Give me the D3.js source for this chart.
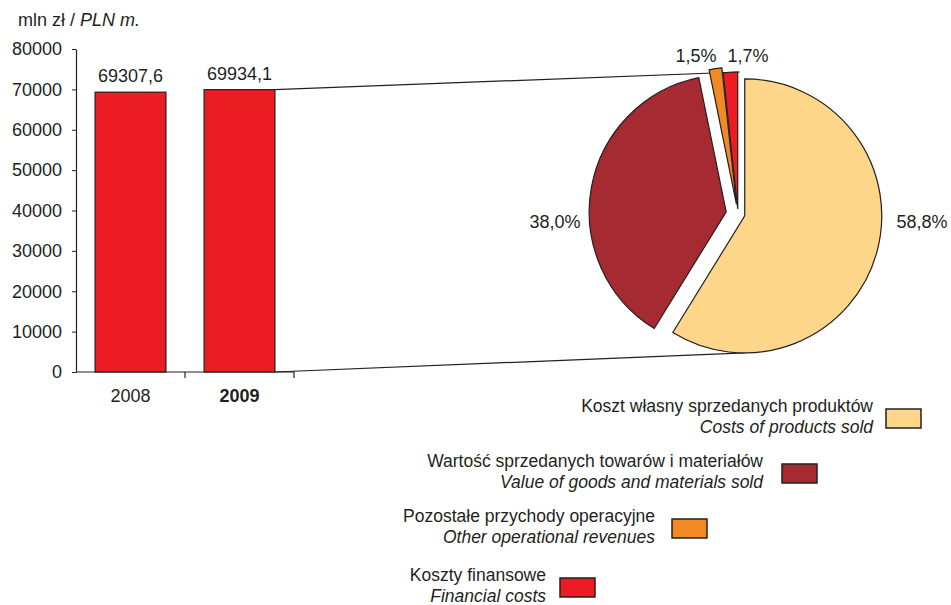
<!DOCTYPE html>
<html>
<head>
<meta charset="utf-8">
<script src="https://cdn.jsdelivr.net/npm/d3@7"></script>
<style>
  html, body { margin: 0; padding: 0; background: #fff; }
  svg text { font-family: "Liberation Sans", Arial, Helvetica, sans-serif; fill: #231f20; }
</style>
</head>
<body>
<svg id="chart" width="951" height="605"></svg>
<script>
// ---------- data ----------
const years = ["2008", "2009"];
const totals = [69307.6, 69934.1];
const totalLabels = ["69307,6", "69934,1"];
const yTicks = [0, 10000, 20000, 30000, 40000, 50000, 60000, 70000, 80000];
const shareValues = [58.8, 38.0, 1.5, 1.7];
const shareLabels = ["58,8%", "38,0%", "1,5%", "1,7%"];
const namesPL = ["Koszt własny sprzedanych produktów", "Wartość sprzedanych towarów i materiałów", "Pozostałe przychody operacyjne", "Koszty finansowe"];
const namesEN = ["Costs of products sold", "Value of goods and materials sold", "Other operational revenues", "Financial costs"];

// ---------- styles ----------
const barColor = "#ed1c24";
const sliceColors = ["#fdd68a", "#a52a31", "#f28a24", "#ed1c24"];
const explode = [7, 12, 10, 5];
const labelOffsets = [[184, 14], [-183, 14], [-42, -152], [10, -152]];

const svg = d3.select("#chart");

// ---------- bar chart ----------
const x = d3.scaleBand().domain(years).range([76, 294]).paddingInner(0.35).paddingOuter(0.175);
const y = d3.scaleLinear().domain([0, 80000]).range([372, 49]);

const yAxis = d3.axisLeft(y).tickValues(yTicks).tickSize(4).tickSizeOuter(0).tickPadding(10).tickFormat(d3.format("d"));
const gy = svg.append("g").attr("transform", "translate(76,0)").call(yAxis);
gy.select(".domain").attr("stroke", "#231f20").attr("stroke-width", 1.2);
gy.selectAll(".tick line").attr("stroke", "#231f20");
gy.selectAll(".tick text").style("font-size", "18px").attr("fill", "#231f20");

// baseline + category boundary ticks
svg.append("line").attr("x1", 76).attr("x2", 294).attr("y1", y(0)).attr("y2", y(0))
  .attr("stroke", "#231f20").attr("stroke-width", 1.2);
const bounds = years.map(d => x(d) + x.bandwidth() + x.step() * 0.175);
svg.selectAll(".xtick").data(bounds).join("line")
  .attr("x1", d => d).attr("x2", d => d).attr("y1", y(0)).attr("y2", y(0) + 6)
  .attr("stroke", "#231f20").attr("stroke-width", 1.2);

svg.selectAll(".xlabel").data(years).join("text")
  .attr("x", d => x(d) + x.bandwidth() / 2).attr("y", 402)
  .attr("text-anchor", "middle").style("font-size", "18px")
  .style("font-weight", (d, i) => i === years.length - 1 ? "bold" : "normal")
  .text(d => d);

svg.selectAll(".bar").data(totals).join("rect")
  .attr("x", (d, i) => x(years[i])).attr("width", x.bandwidth())
  .attr("y", d => y(d)).attr("height", d => y(0) - y(d))
  .attr("fill", barColor).attr("stroke", "#231f20").attr("stroke-width", 1.2);

svg.selectAll(".val").data(totals).join("text")
  .attr("x", (d, i) => x(years[i]) + x.bandwidth() / 2).attr("y", d => y(d) - 10)
  .attr("text-anchor", "middle").style("font-size", "18px")
  .text((d, i) => totalLabels[i]);

const title = svg.append("text").attr("x", 18).attr("y", 26).style("font-size", "18px");
title.append("tspan").text("mln zł / ");
title.append("tspan").style("font-style", "italic").text("PLN m.");

// ---------- pie ----------
const cx = 738, cy = 214, r = 137;
const pie = d3.pie().sort(null).startAngle(0).endAngle(2 * Math.PI);
const arcs = pie(shareValues);
const arc = d3.arc().innerRadius(0).outerRadius(r);
const off = (a, i) => {
  const m = (a.startAngle + a.endAngle) / 2;
  return [Math.sin(m) * explode[i], -Math.cos(m) * explode[i]];
};

// connector lines (bar 2009 to pie)
const lastBar = years[years.length - 1];
const bx = x(lastBar) + x.bandwidth();
const redOff = off(arcs[3], 3);
const yelOff = off(arcs[0], 0);
svg.append("line").attr("x1", bx).attr("y1", y(totals[1])).attr("x2", cx + redOff[0] + 2).attr("y2", cy + redOff[1] - r)
  .attr("stroke", "#231f20").attr("stroke-width", 1.2);
svg.append("line").attr("x1", bx).attr("y1", y(0)).attr("x2", cx + yelOff[0]).attr("y2", cy + yelOff[1] + r)
  .attr("stroke", "#231f20").attr("stroke-width", 1.2);

svg.selectAll(".slice").data(arcs).join("path")
  .attr("transform", (a, i) => { const o = off(a, i); return `translate(${cx + o[0]},${cy + o[1]})`; })
  .attr("d", arc)
  .attr("fill", (a, i) => sliceColors[i])
  .attr("stroke", "#231f20").attr("stroke-width", 1.2).attr("stroke-linejoin", "miter");

svg.selectAll(".plabel").data(arcs).join("text")
  .attr("x", (a, i) => cx + labelOffsets[i][0]).attr("y", (a, i) => cy + labelOffsets[i][1])
  .attr("text-anchor", "middle").style("font-size", "18px")
  .text((a, i) => shareLabels[i]);

// ---------- legend ----------
const legendSwatch = [[886, 409], [782, 464], [672, 519], [560, 578]];
const legendGap = [13, 19, 17, 14];
const lg = svg.selectAll(".legend").data(namesPL).join("g")
  .attr("transform", (d, i) => `translate(${legendSwatch[i][0]},${legendSwatch[i][1]})`);
lg.append("rect").attr("width", 35).attr("height", 19)
  .attr("fill", (d, i) => sliceColors[i]).attr("stroke", "#231f20").attr("stroke-width", 1.5);
lg.append("text").attr("x", (d, i) => -legendGap[i]).attr("y", 3).attr("text-anchor", "end").style("font-size", "17.5px")
  .text(d => d);
lg.append("text").attr("x", (d, i) => -legendGap[i]).attr("y", 24).attr("text-anchor", "end").style("font-size", "17.5px")
  .style("font-style", "italic").text((d, i) => namesEN[i]);
</script>
</body>
</html>
